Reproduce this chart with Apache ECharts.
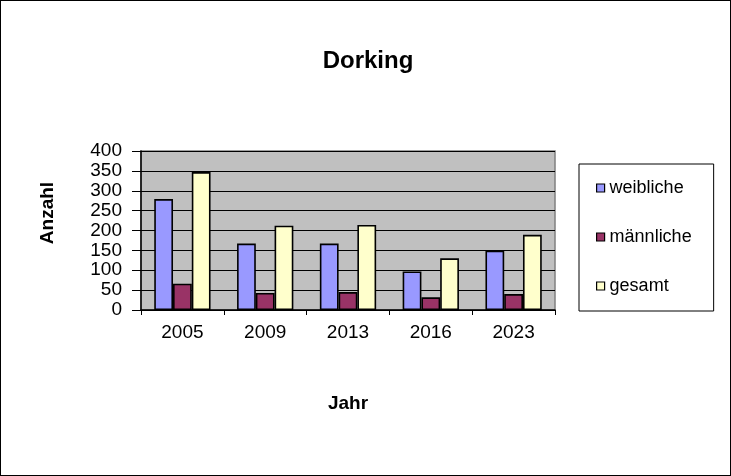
<!DOCTYPE html>
<html>
<head>
<meta charset="utf-8">
<script src="https://cdn.jsdelivr.net/npm/echarts@6/dist/echarts.min.js"></script>
<style>
  html, body { margin: 0; padding: 0; background: #fff; }
  #chart { width: 731px; height: 476px; box-sizing: border-box; border: 1px solid #000; }
</style>
</head>
<body>
<div id="chart"></div>
<script>
// Werte
var jahre = ['2005', '2009', '2013', '2016', '2023'];
var weibliche = [279, 167, 167, 97, 149];
var maennliche = [66, 43, 45, 32, 40];
var gesamt = [347, 212, 214, 130, 189];

var font = 'Liberation Sans, Arial, sans-serif';

function bar(name, data, color) {
    return {
        name: name,
        type: 'bar',
        data: data,
        barGap: '0%',
        barCategoryGap: '32%',
        itemStyle: { color: color, borderColor: '#000', borderWidth: 1.6 }
    };
}

var chart = echarts.init(document.getElementById('chart'));
chart.setOption({
    animation: false,
    title: {
        text: 'Dorking',
        left: 362, top: 43, textAlign: 'center',
        textStyle: { fontFamily: font, fontSize: 24, fontWeight: 'bold', color: '#000' }
    },
    legend: {
        orient: 'vertical',
        left: 578, top: 163,
        padding: [15, 22, 16, 17],
        itemGap: 31,
        itemWidth: 8, itemHeight: 8,
        icon: 'rect',
        borderColor: '#000', borderWidth: 1,
        backgroundColor: '#fff',
        textStyle: { fontFamily: font, fontSize: 18, color: '#000' },
        itemStyle: { borderColor: '#000', borderWidth: 1.2 }
    },
    graphic: [{
        type: 'text',
        x: 47, y: 212, rotation: Math.PI / 2,
        style: {
            text: 'Anzahl', fontFamily: font, fontSize: 19, fontWeight: 'bold',
            fill: '#000', align: 'center', verticalAlign: 'middle'
        }
    }],
    grid: { left: 140, right: 175, top: 150, bottom: 165, show: true,
            backgroundColor: '#c0c0c0', borderColor: '#808080', borderWidth: 1.5 },
    xAxis: {
        type: 'category',
        data: jahre,
        name: 'Jahr', nameLocation: 'middle', nameGap: 84,
        nameTextStyle: { fontFamily: font, fontSize: 19, fontWeight: 'bold', color: '#000' },
        axisLine: { lineStyle: { color: '#000', width: 1.5 } },
        axisTick: { show: true, length: 5, lineStyle: { color: '#000' } },
        axisLabel: { fontFamily: font, fontSize: 19, color: '#000', margin: 13 }
    },
    yAxis: {
        type: 'value',
        min: 0, max: 400, interval: 50,
        axisLine: { show: true, lineStyle: { color: '#000', width: 1.5 } },
        axisTick: { show: true, length: 9, lineStyle: { color: '#000' } },
        axisLabel: { fontFamily: font, fontSize: 19, color: '#000', margin: 19 },
        splitLine: { lineStyle: { color: '#000', width: 1 } }
    },
    series: [
        bar('weibliche', weibliche, '#9999ff'),
        bar('männliche', maennliche, '#993366'),
        bar('gesamt', gesamt, '#ffffcc')
    ]
});
</script>
</body>
</html>
